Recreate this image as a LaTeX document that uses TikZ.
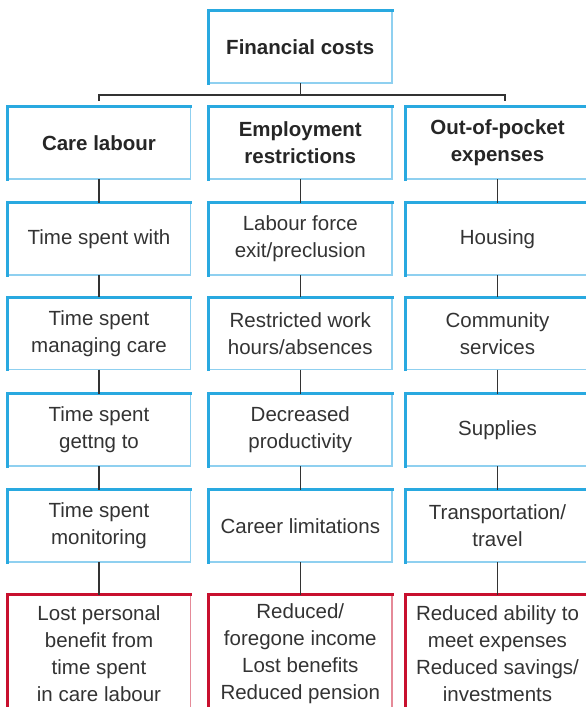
\documentclass[tikz,border=0pt]{standalone}
\usepackage{fontspec}
\setmainfont{Liberation Sans}
\definecolor{costblue}{HTML}{29A9E0}
\definecolor{costbluelight}{HTML}{8FD0F0}
\definecolor{costred}{HTML}{C8102E}
\definecolor{costredlight}{HTML}{E58A98}
\definecolor{textgray}{HTML}{333333}
\definecolor{linegray}{HTML}{333333}

\tikzset{
  framed/.style 2 args={append after command={\pgfextra{
    \draw[#2, line width=1.5pt] (\tikzlastnode.north east) -- (\tikzlastnode.south east) -- (\tikzlastnode.south west);
    \draw[#1, line width=3pt, line cap=rect] (\tikzlastnode.south west) -- (\tikzlastnode.north west) -- (\tikzlastnode.north east);
  }}},
  basebox/.style={align=center, inner sep=0pt, minimum width=183pt, minimum height=72pt,
    text=textgray, font=\fontsize{20.5}{27}\selectfont},
  costbox/.style={basebox, framed={costblue}{costbluelight}},
  headbox/.style={basebox, text=black!85,
    font=\fontsize{20.5}{27}\selectfont\bfseries, framed={costblue}{costbluelight}},
  lossbox/.style={basebox, minimum height=118pt, framed={costred}{costredlight}},
  conn/.style={draw=linegray, line width=1.3pt},
}

\begin{document}
\begin{tikzpicture}[x=1pt,y=-1pt]
  \useasboundingbox (0,0) rectangle (586,707);
  \clip (0,0) rectangle (586,707);

  \node[headbox] (fin) at (300.3,47) {Financial costs};

  \node[headbox] (care) at (99,143) {Care labour};
  \node[headbox] (emp) at (300.3,143) {Employment\\restrictions};
  \node[headbox] (oop) at (497.5,143) {Out-of-pocket\\expenses};

  \node[costbox] (care1) at (99,239) {Time spent with};
  \node[costbox] (care2) at (99,333.5) {Time spent\\managing care};
  \node[costbox] (care3) at (99,430) {Time spent\\gettng to};
  \node[costbox] (care4) at (99,526) {Time spent\\monitoring};
  \node[lossbox] (careloss) at (99,654) {Lost personal\\benefit from\\time spent\\in care labour};

  \node[costbox] (emp1) at (300.3,239) {Labour force\\exit/preclusion};
  \node[costbox] (emp2) at (300.3,333.5) {Restricted work\\hours/absences};
  \node[costbox] (emp3) at (300.3,430) {Decreased\\productivity};
  \node[costbox] (emp4) at (300.3,526) {Career limitations};
  \node[lossbox] (emploss) at (300.3,654) {Reduced/\\foregone income\\Lost benefits\\Reduced pension};

  \node[costbox] (oop1) at (497.5,239) {Housing};
  \node[costbox] (oop2) at (497.5,333.5) {Community\\services};
  \node[costbox] (oop3) at (497.5,430) {Supplies};
  \node[costbox] (oop4) at (497.5,526) {Transportation/\\travel};
  \node[lossbox] (ooploss) at (497.5,654) {Reduced ability to\\meet expenses\\Reduced savings/\\investments};

  % bracket under the top box
  \coordinate (bar) at (300.3,95);
  \coordinate (tickl) at (99,101);
  \coordinate (tickr) at (505,101);
  \draw[conn] (fin.south) -- (bar);
  \draw[conn] (tickl) |- (bar) -| (tickr);

  % columns
  \draw[conn] (care) -- (care1) (care1) -- (care2) (care2) -- (care3) (care3) -- (care4) (care4) -- (careloss);
  \draw[conn] (emp) -- (emp1) (emp1) -- (emp2) (emp2) -- (emp3) (emp3) -- (emp4) (emp4) -- (emploss);
  \draw[conn] (oop) -- (oop1) (oop1) -- (oop2) (oop2) -- (oop3) (oop3) -- (oop4) (oop4) -- (ooploss);
\end{tikzpicture}
\end{document}
